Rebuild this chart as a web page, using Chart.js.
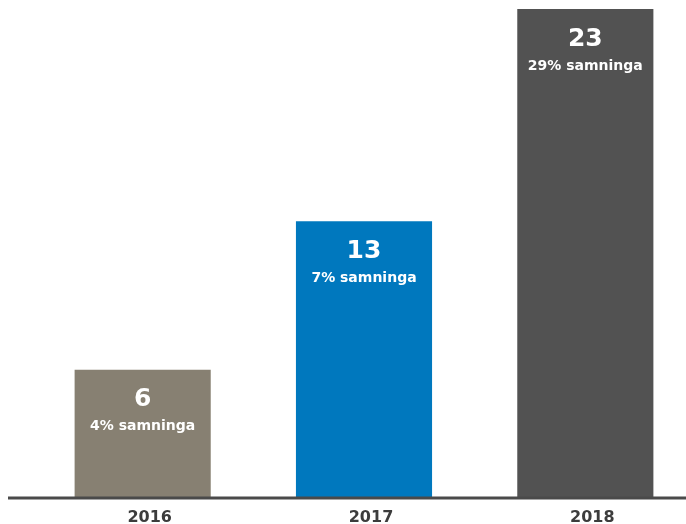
<!DOCTYPE html>
<html>
<head>
<meta charset="utf-8">
<script src="https://cdn.jsdelivr.net/npm/chart.js@4"></script>
<style>
    html, body { margin: 0; padding: 0; background: #fff; overflow: hidden; }
    #wrap { width: 696px; height: 524px; position: relative; }
</style>
</head>
<body>
<div id="wrap"><canvas id="chart"></canvas></div>
<script>
// chart data
const years = ['2016', '2017', '2018'];
const counts = [6, 13, 23];
const shares = ['4% samninga', '7% samninga', '29% samninga'];
const barColors = ['#878072', '#0078be', '#525252'];

const FONT = '"DejaVu Sans", sans-serif';

// value + share text inside each bar
const barLabels = {
    id: 'barLabels',
    afterDatasetsDraw(chart) {
        const ctx = chart.ctx;
        const meta = chart.getDatasetMeta(0);
        ctx.save();
        ctx.fillStyle = '#ffffff';
        ctx.textAlign = 'center';
        ctx.textBaseline = 'middle';
        meta.data.forEach((bar, i) => {
            ctx.font = 'bold 25px ' + FONT;
            ctx.fillText(String(counts[i]), bar.x, bar.y + 30);
            ctx.font = 'bold 14px ' + FONT;
            ctx.fillText(shares[i], bar.x, bar.y + 57);
        });
        ctx.restore();
    }
};

// baseline running across the full width
const baseLine = {
    id: 'baseLine',
    afterDatasetsDraw(chart) {
        const ctx = chart.ctx;
        const y = chart.scales.y.getPixelForValue(0);
        ctx.save();
        ctx.strokeStyle = '#4a4a4a';
        ctx.lineWidth = 3;
        ctx.beginPath();
        ctx.moveTo(8, y + 1);
        ctx.lineTo(chart.width, y + 1);
        ctx.stroke();
        ctx.restore();
    }
};

new Chart(document.getElementById('chart').getContext('2d'), {
    type: 'bar',
    data: {
        labels: years,
        datasets: [{
            data: counts,
            backgroundColor: barColors,
            borderWidth: 0,
            categoryPercentage: 0.615,
            barPercentage: 1
        }]
    },
    options: {
        responsive: true,
        maintainAspectRatio: false,
        animation: false,
        layout: { padding: { top: 9, left: 32, right: 0, bottom: 0 } },
        plugins: {
            legend: { display: false },
            tooltip: { enabled: false }
        },
        scales: {
            x: {
                grid: { display: false, drawTicks: false },
                border: { display: false },
                ticks: {
                    color: '#3c3c3c',
                    padding: 11,
                    labelOffset: 7,
                    font: { family: FONT, size: 16, weight: 'bold' }
                },
                afterFit(scale) { scale.height = 27; }
            },
            y: {
                display: false,
                min: 0,
                max: 23
            }
        }
    },
    plugins: [barLabels, baseLine]
});
</script>
</body>
</html>
